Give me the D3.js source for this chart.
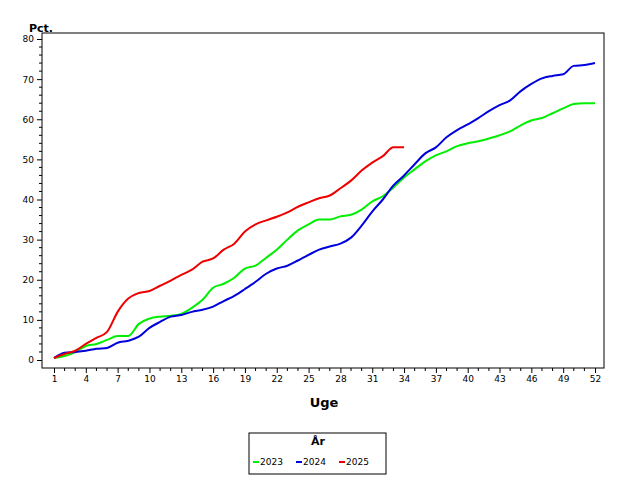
<!DOCTYPE html><html><head><script src="https://cdn.jsdelivr.net/npm/d3@7"></script>
<style>body{margin:0;background:#fff}text{font-family:"DejaVu Sans",sans-serif}</style></head><body><svg id="c" width="640" height="480"></svg><script>
const weeks=d3.range(1,53);
const xTicks=[1,4,7,10,13,16,19,22,25,28,31,34,37,40,43,46,49,52];
const yTicks=[0,10,20,30,40,50,60,70,80];
const s2023=[0.5,1,2,3.5,4,5,6,6,9,10.3,10.8,11,11.5,13,15,18,19,20.5,22.8,23.5,25.5,27.5,30,32.3,33.8,35,35,35.8,36.2,37.5,39.5,40.8,43,45.5,47.5,49.5,51,52,53.3,54,54.5,55.2,56,57,58.5,59.7,60.3,61.5,62.7,63.8,64,64];
const s2024=[0.5,1.8,2,2.3,2.8,3,4.3,4.8,5.8,8,9.5,10.8,11.2,12,12.5,13.3,14.7,16,17.7,19.5,21.5,22.8,23.5,24.8,26.2,27.5,28.3,29,30.5,33.5,37,40,43.5,46,48.8,51.5,53,55.5,57.3,58.7,60.3,62,63.5,64.7,67,68.8,70.2,70.8,71.2,73.3,73.5,74];
const s2025=[0.5,1.5,2.3,4,5.5,7,12,15.3,16.7,17.2,18.5,19.8,21.2,22.5,24.5,25.3,27.5,29,32,33.8,34.8,35.7,36.8,38.2,39.3,40.3,41,42.8,44.7,47.2,49.2,50.8,53,53];
const series=[{name:"2023",v:s2023,c:"#00ee00"},{name:"2024",v:s2024,c:"#0000dd"},{name:"2025",v:s2025,c:"#ee0000"}];
const svg=d3.select("#c");
const x=d3.scaleLinear().domain([1,52]).range([54,595]);
const y=d3.scaleLinear().domain([0,80]).range([360,39]);
const L=42,R=604,T=33,B=368;
svg.append("rect").attr("x",L).attr("y",T).attr("width",R-L).attr("height",B-T).attr("fill","none").attr("stroke","#000");
const ya=svg.append("g").attr("transform",`translate(${L},0)`).call(d3.axisLeft(y).tickValues(yTicks).tickSize(5).tickFormat(d3.format("d")));
ya.select(".domain").remove();ya.selectAll("text").attr("font-size",9).attr("fill","#000");
svg.append("g").selectAll("line").data(d3.range(0,81,2).filter(d=>d%10)).join("line").attr("x1",L-3).attr("x2",L).attr("y1",d=>y(d)).attr("y2",d=>y(d)).attr("stroke","#000");
const xa=svg.append("g").attr("transform",`translate(0,${B})`).call(d3.axisBottom(x).tickValues(xTicks).tickSize(5).tickFormat(d3.format("d")));
xa.select(".domain").remove();xa.selectAll("text").attr("font-size",9).attr("fill","#000");
svg.append("g").selectAll("line").data(weeks.filter(w=>!xTicks.includes(w))).join("line").attr("x1",d=>x(d)).attr("x2",d=>x(d)).attr("y1",B).attr("y2",B+3).attr("stroke","#000");
const line=d3.line().x((d,i)=>x(i+1)).y(d=>y(d)).curve(d3.curveMonotoneX);
series.forEach(s=>svg.append("path").attr("d",line(s.v)).attr("fill","none").attr("stroke",s.c).attr("stroke-width",2));
svg.append("text").attr("x",29).attr("y",32).attr("font-size",11).attr("font-weight","bold").text("Pct.");
svg.append("text").attr("x",324).attr("y",407).attr("text-anchor","middle").attr("font-size",13).attr("font-weight","bold").text("Uge");
const lg=svg.append("g");
lg.append("rect").attr("x",249).attr("y",433).attr("width",137).attr("height",41).attr("fill","#fff").attr("stroke","#000");
lg.append("text").attr("x",318).attr("y",445).attr("text-anchor","middle").attr("font-size",11).attr("font-weight","bold").text("År");
series.forEach((s,i)=>{const gx=253+i*43;
lg.append("line").attr("x1",gx).attr("x2",gx+6).attr("y1",462).attr("y2",462).attr("stroke",s.c).attr("stroke-width",2);
lg.append("text").attr("x",gx+7).attr("y",465).attr("font-size",9).text(s.name);});
</script></body></html>
